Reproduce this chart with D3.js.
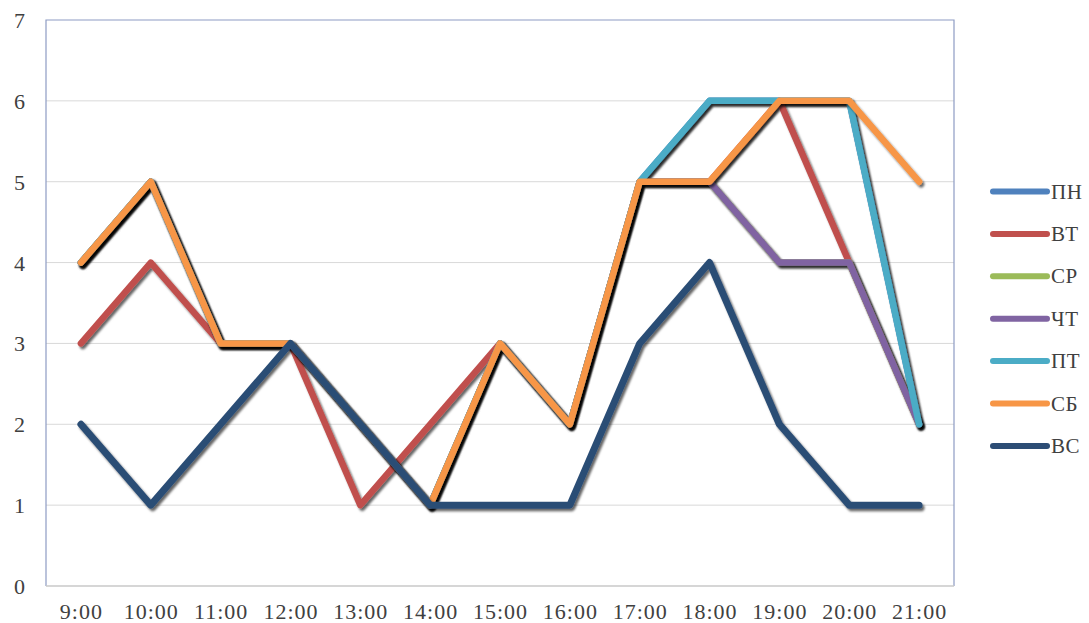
<!DOCTYPE html>
<html>
<head>
<meta charset="utf-8">
<script src="https://cdn.jsdelivr.net/npm/d3@7"></script>
<style>
  html, body { margin: 0; padding: 0; background: #ffffff; }
  svg { display: block; }
  svg text { font-family: "Times New Roman", Times, "Liberation Serif", "DejaVu Serif", "Noto Serif", serif; fill: #404040; }
</style>
</head>
<body>
<svg id="chart" width="1089" height="623"></svg>
<script>
// Hours of the day on the horizontal axis
const hours = ["9:00", "10:00", "11:00", "12:00", "13:00", "14:00", "15:00",
               "16:00", "17:00", "18:00", "19:00", "20:00", "21:00"];

// Day-of-week series (values per hour)
const dayNames = ["ПН", "ВТ", "СР", "ЧТ", "ПТ", "СБ", "ВС"];
const mon = [4, 5, 3, 3, 2, 1, 3, 2, 5, 6, 6, 6, 2];
const tue = [3, 4, 3, 3, 1, 2, 3, 2, 5, 5, 6, 4, 2];
const wed = [4, 5, 3, 3, 2, 1, 3, 2, 5, 5, 4, 4, 2];
const thu = [4, 5, 3, 3, 2, 1, 3, 2, 5, 5, 4, 4, 2];
const fri = [4, 5, 3, 3, 2, 1, 3, 2, 5, 6, 6, 6, 2];
const sat = [4, 5, 3, 3, 2, 1, 3, 2, 5, 5, 6, 6, 5];
const sun = [2, 1, 2, 3, 2, 1, 1, 1, 3, 4, 2, 1, 1];
const seriesValues = [mon, tue, wed, thu, fri, sat, sun];
const seriesColors = ["#4F81BD", "#C0504D", "#9BBB59", "#8064A2", "#4BACC6", "#F79646", "#2C4D75"];

// Value axis ticks
const yTicks = [0, 1, 2, 3, 4, 5, 6, 7];

const FONT = '"Times New Roman", Times, "Liberation Serif", "DejaVu Serif", "Noto Serif", serif';

const svg = d3.select("#chart");
const plot = { left: 46, top: 20, right: 954, bottom: 586 };

const x = d3.scalePoint().domain(hours).range([plot.left, plot.right]).padding(0.5);
const y = d3.scaleLinear().domain([0, 7]).range([plot.bottom, plot.top]);

// Soft drop shadow under the lines
const defs = svg.append("defs");
const f = defs.append("filter").attr("id", "shadow")
  .attr("x", "-10%").attr("y", "-10%").attr("width", "120%").attr("height", "120%");
f.append("feDropShadow").attr("dx", 2).attr("dy", 2.5).attr("stdDeviation", 1.3)
  .attr("flood-color", "#000").attr("flood-opacity", 0.6);

// Horizontal gridlines
svg.append("g").selectAll("line").data(yTicks.filter(d => d > 0 && d < 7)).join("line")
  .attr("x1", plot.left).attr("x2", plot.right)
  .attr("y1", d => y(d)).attr("y2", d => y(d))
  .attr("stroke", "#d9d9d9").attr("stroke-width", 1);

// Plot-area frame
svg.append("path")
  .attr("d", `M${plot.left},${plot.bottom} V${plot.top} H${plot.right} V${plot.bottom}`)
  .attr("fill", "none").attr("stroke", "#8E9CC4").attr("stroke-width", 1.2);
svg.append("line")
  .attr("x1", plot.left).attr("x2", plot.right)
  .attr("y1", plot.bottom).attr("y2", plot.bottom)
  .attr("stroke", "#c8c8c8").attr("stroke-width", 1.5);

// Y axis labels
const yAxis = d3.axisLeft(y).tickValues(yTicks).tickFormat(d3.format("d"))
  .tickSize(0).tickPadding(0);
const gy = svg.append("g").attr("transform", `translate(25,0)`).call(yAxis);
gy.attr("font-family", null);
gy.select(".domain").remove();
gy.selectAll("text").attr("font-size", 22).attr("dy", "0.34em")
  .style("font-family", FONT).attr("fill", "#404040");

// X axis labels
const xAxis = d3.axisBottom(x).tickSize(0).tickPadding(0);
const gx = svg.append("g").call(xAxis);
gx.attr("font-family", null);
gx.select(".domain").remove();
gx.selectAll("text").attr("y", 619).attr("dy", 0).attr("font-size", 22)
  .attr("letter-spacing", "1px")
  .style("font-family", FONT).attr("fill", "#202020");

// Series lines
const line = d3.line().x((d, i) => x(hours[i])).y(d => y(d));
svg.append("g").selectAll("path").data(seriesValues).join("path")
  .attr("d", d => line(d))
  .attr("fill", "none")
  .attr("stroke", (d, i) => seriesColors[i])
  .attr("stroke-width", (d, i) => i === 6 ? 7 : 6.5)
  .attr("stroke-linecap", "round")
  .attr("stroke-linejoin", "round")
  .attr("filter", "url(#shadow)");

// Legend
const legend = svg.append("g").selectAll("g").data(dayNames).join("g")
  .attr("transform", (d, i) => `translate(993,${191.5 + i * 42.4})`);
legend.append("line")
  .attr("x1", 0).attr("x2", 54).attr("y1", 0).attr("y2", 0)
  .attr("stroke", (d, i) => seriesColors[i])
  .attr("stroke-width", 6).attr("stroke-linecap", "round");
legend.append("text")
  .attr("x", 58).attr("y", 7).attr("font-size", 21)
  .attr("letter-spacing", "0.5px")
  .style("font-family", FONT)
  .text(d => d);
</script>
</body>
</html>
